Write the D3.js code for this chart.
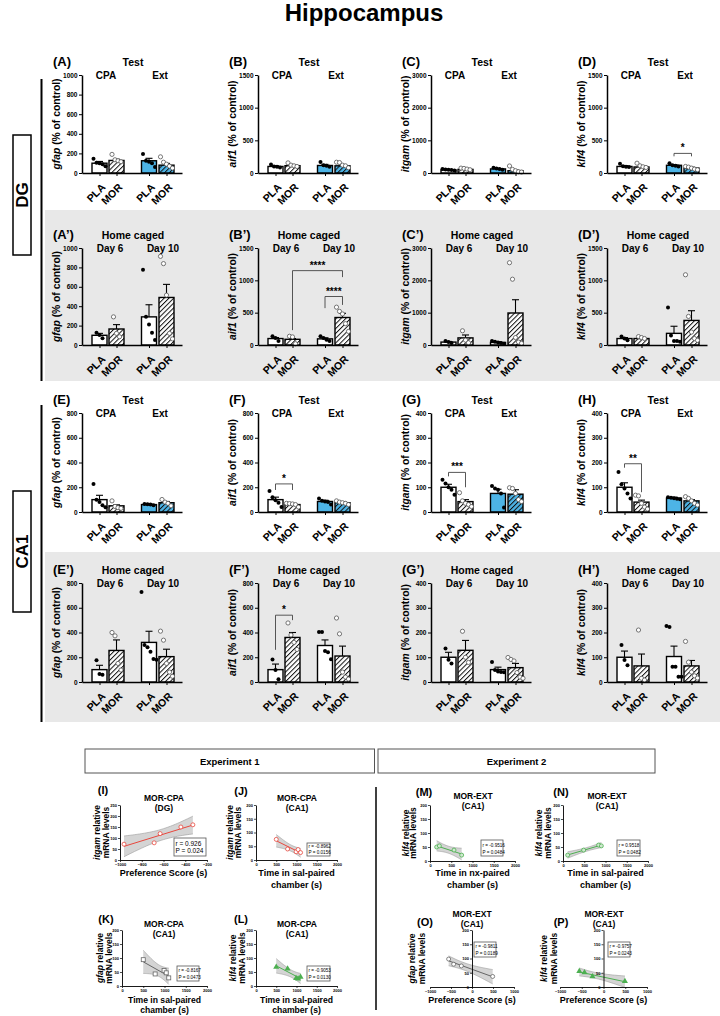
<!DOCTYPE html>
<html>
<head>
<meta charset="utf-8">
<script src="https://cdn.jsdelivr.net/npm/d3@7/dist/d3.min.js"></script>
<style>
html,body{margin:0;padding:0;background:#fff;}
svg{display:block;}
</style>
</head>
<body>
<svg id="fig" width="720" height="1016"></svg>
<script>
// ================= DATA =================
const groupLabels = ["PLA","MOR","PLA","MOR"];
const testLabels  = ["CPA","Ext"];
const homeLabels  = ["Day 6","Day 10"];
const geneNames   = ["gfap","aif1","itgam","klf4"];
const dgMax   = [1000,1500,3000,1500];
const dgStep  = [200,500,1000,500];
const ca1Max  = [800,800,400,400];
const ca1Step = [200,200,100,100];

// DG – Test
const A_means=[100,128,125,80],  A_top=[118,140,150,98];
const A_pts=[[145,105,100,90,70],[190,135,125,115],[195,125,115,100,60],[165,110,90,70,50]];
const B_means=[100,112,115,110], B_top=[110,128,132,125];
const B_pts=[[130,100,95,85],[155,120,110,100],[170,120,110,95],[165,160,120,110,80]];
const C_means=[95,110,125,70],   C_top=[110,125,140,90];
const C_pts=[[120,110,100,90,80],[150,140,120,100],[160,140,120,100],[215,110,70,40,30]];
const D_means=[100,92,118,75],   D_top=[112,105,128,88];
const D_pts=[[140,105,95,90],[150,110,95,85],[150,120,110,100],[100,90,75,60,50]];
const D_sig=[{a:2,b:3,v:300,dl:45,dr:45,t:"*"}];

// DG – Home caged
const Ap_means=[100,165,290,490], Ap_top=[120,210,415,625];
const Ap_pts=[[127,103,70],[290,120,85],[777,291,212,127,51],[914,839,514,120,63]];
const Bp_means=[100,88,95,425],   Bp_top=[115,100,112,490];
const Bp_pts=[[135,110,60],[135,125,20],[137,110,80,60],[585,520,480,330,210]];
const Bp_sig=[{a:1,b:3,v:1150,dl:920,dr:100,t:"****"},{a:2,b:3,v:750,dl:180,dr:130,t:"****"}];
const Cp_means=[90,220,80,990],   Cp_top=[110,310,100,1400];
const Cp_pts=[[120,90,60],[440,150,70],[120,100,80,60,40],[2545,2035,230,90,50]];
const Dp_means=[100,100,180,380], Dp_top=[115,115,290,530];
const Dp_pts=[[130,100,75],[130,115,100],[579,147,61,61,52],[1086,442,200,100,72]];

// CA1 – Test
const E_means=[100,50,60,75],  E_top=[135,58,65,85];
const E_pts=[[227,100,80,55,38],[90,45,35,30],[65,62,60,55],[101,80,70,50]];
const F_means=[100,60,85,75],  F_top=[120,66,95,82];
const F_pts=[[170,120,95,75,40],[70,68,65,60,40],[110,90,85,80,60],[90,80,75,70,60]];
const F_sig=[{a:0,b:1,v:227,dl:49,dr:49,t:"*"}];
const G_means=[100,42,75,72],  G_top=[112,50,92,90];
const G_pts=[[130,115,100,90,70],[78,45,35,30,22],[105,95,90,75,18],[98,95,75,50,42]];
const G_sig=[{a:0,b:1,v:160,dl:16,dr:60,t:"***"}];
const H_means=[100,40,56,45],  H_top=[118,48,60,50];
const H_pts=[[162,112,95,75,55],[68,65,35,20,12],[60,58,56,54,52],[62,55,45,35,28]];
const H_sig=[{a:0,b:1,v:195,dl:16,dr:115,t:"**"}];

// CA1 – Home caged
const Ep_means=[100,255,320,205], Ep_top=[135,340,410,265];
const Ep_pts=[[176,65,59],[400,373,150,97],[727,300,280,245,185,180],[411,338,150,80,46]];
const Fp_means=[100,360,295,210], Fp_top=[145,400,340,290];
const Fp_pts=[[181,97,22],[477,380,320,263],[405,405,250,240,184],[517,389,80,40,24]];
const Fp_sig=[{a:0,b:1,v:540,dl:280,dr:40,t:"*"}];
const Gp_means=[100,128,50,58],   Gp_top=[120,168,60,75];
const Gp_pts=[[135,90,75],[205,100,79],[81,48,42,40,39],[99,91,85,38,20,15]];
const Hp_means=[100,65,103,65],   Hp_top=[125,113,145,87];
const Hp_pts=[[150,89,68],[210,15,8],[226,222,62,62,21,21],[164,80,40,25,16]];

// Correlations
const I_x=[-963,-686,-631,-440,-330], I_y=[72,78,120,150,160], I_stat=["r = 0.926","P = 0.024"];
const J_x=[500,780,990,1040,1100],   J_y=[75,40,30,38,27],    J_stat=["r = -0.8962","P = 0.0156"];
const K_x=[500,780,990,1040,1100],   K_y=[94,43,55,47,29],    K_stat=["r = -0.8167","P = 0.0473"];
const L_x=[500,780,990,1040,1100],   L_y=[68,62,28,26,32],    L_stat=["r = -0.9053","P = 0.0130"];
const M_x=[157,220,565,745],         M_y=[50,54,39,21],       M_stat=["r = -0.9516","P = 0.0484"];
const N_x=[110,486,839,902],         N_y=[21,39,57,54],       N_stat=["r = 0.9518","P = 0.0482"];
const O_x=[-556,-437,-254,492],      O_y=[98,80,74,37],       O_stat=["r = -0.9811","P = 0.0189"];
const P_x=[-556,-437,-254,492],      P_y=[55,51,37,20],       P_stat=["r = -0.9757","P = 0.0243"];

// ================= DRAW =================
const FONT = "'Liberation Sans', Arial, Helvetica, sans-serif";
const svg = d3.select("#fig").style("font-family", FONT);
const BLUE = "#4db4e6";
const fmt = d3.format("d");
const defs = svg.append("defs");
function hatch(id,bg){
  const p = defs.append("pattern").attr("id",id).attr("patternUnits","userSpaceOnUse")
    .attr("width",3.4).attr("height",3.4).attr("patternTransform","rotate(45)");
  p.append("rect").attr("width",3.4).attr("height",3.4).attr("fill",bg);
  p.append("line").attr("x1",0.5).attr("y1",0).attr("x2",0.5).attr("y2",3.4).attr("stroke","#111").attr("stroke-width",1);
}
hatch("hw","#ffffff"); hatch("hb",BLUE);

// grey backgrounds
svg.append("rect").attr("x",45).attr("y",210).attr("width",675).attr("height",171).attr("fill","#e8e8e8");
svg.append("rect").attr("x",45).attr("y",552).attr("width",675).attr("height",170).attr("fill","#e8e8e8");

// title
svg.append("text").attr("x",364).attr("y",21).attr("text-anchor","middle")
  .attr("font-size",24).attr("font-weight","bold").text("Hippocampus");

// region boxes + brackets
function region(label,y0,y1,ly0,ly1){
  svg.append("rect").attr("x",13).attr("y",y0).attr("width",18).attr("height",y1-y0)
    .attr("fill","#fff").attr("stroke","#000").attr("stroke-width",1.5);
  svg.append("text").attr("transform",`translate(28,${(y0+y1)/2}) rotate(-90)`).attr("text-anchor","middle")
    .attr("font-size",17).attr("font-weight","bold").text(label);
  svg.append("line").attr("x1",41.5).attr("x2",41.5).attr("y1",ly0).attr("y2",ly1).attr("stroke","#000").attr("stroke-width",2);
}
region("DG",135,255,79,381);
region("CA1",491,612,405,722);

const colX=[82,258,431,607];
const centersU=[17.5,34.5,67,84.5];

function barPanel(ax,yTop,yBot,max,step,gene,tag,head,sub,blue,means,tops,pts,sigs){
  const g = svg.append("g");
  const x = d3.scaleLinear().domain([0,100]).range([ax,ax+100]);
  const y = d3.scaleLinear().domain([0,max]).range([yBot,yTop]);
  const bw=15;
  means.forEach((m,i)=>{
    const isBlue = blue && i>=2, hat = i%2===1;
    g.append("rect").attr("x",x(centersU[i])-bw/2).attr("y",y(m)).attr("width",bw).attr("height",y(0)-y(m))
      .attr("fill", hat ? (isBlue?"url(#hb)":"url(#hw)") : (isBlue?BLUE:"#fff"))
      .attr("stroke","#000").attr("stroke-width",1.4);
  });
  tops.forEach((t,i)=>{
    const cx=x(centersU[i]);
    g.append("line").attr("x1",cx).attr("x2",cx).attr("y1",y(means[i])).attr("y2",y(t)).attr("stroke","#000").attr("stroke-width",1.1);
    g.append("line").attr("x1",cx-3.5).attr("x2",cx+3.5).attr("y1",y(t)).attr("y2",y(t)).attr("stroke","#000").attr("stroke-width",1.1);
  });
  pts.forEach((arr,i)=>{
    const cx=x(centersU[i]); const n=arr.length;
    arr.forEach((v,k)=>{
      const off=(k-(n-1)/2)*3;
      const c=g.append("circle").attr("cx",cx+off).attr("cy",y(v)).attr("r",i%2===0?2:2.1);
      if(i%2===0) c.attr("fill","#000");
      else c.attr("fill","#fff").attr("stroke","#555").attr("stroke-width",0.8);
    });
  });
  const ya = g.append("g").attr("transform",`translate(${ax},0)`)
    .call(d3.axisLeft(y).tickValues(d3.range(0,max+1,step)).tickFormat(fmt).tickSize(3).tickSizeOuter(0).tickPadding(1.5));
  ya.select(".domain").attr("stroke-width",1.5);
  ya.selectAll(".tick line").attr("stroke-width",1);
  ya.selectAll("text").attr("font-size",6.5).attr("font-weight","bold").attr("font-family",FONT);
  const xa = g.append("g").attr("transform",`translate(0,${yBot})`)
    .call(d3.axisBottom(x).tickValues(centersU).tickFormat((d,i)=>groupLabels[i]).tickSize(3).tickSizeOuter(0));
  xa.select(".domain").attr("stroke-width",1.5);
  xa.selectAll(".tick line").attr("stroke-width",1);
  xa.selectAll("text").attr("font-size",10.5).attr("font-weight","bold").attr("font-family",FONT)
    .attr("text-anchor","end").attr("x",6).attr("y",15).attr("dy",0).attr("transform","rotate(-45 6 15)");
  const yl = g.append("text").attr("transform",`translate(${ax-22},${(yTop+yBot)/2}) rotate(-90)`)
    .attr("text-anchor","middle").attr("font-size",10.3).attr("font-weight","bold");
  yl.append("tspan").attr("font-style","italic").text(gene);
  yl.append("tspan").text(" (% of control)");
  g.append("text").attr("x",ax-29).attr("y",yTop-9).attr("font-size",13).attr("font-weight","bold").text(tag);
  g.append("text").attr("x",ax+51).attr("y",yTop-9).attr("text-anchor","middle").attr("font-size",10.5).attr("font-weight","bold").text(head);
  const subX = head==="Test"?[24,78]:[28,81];
  sub.forEach((s,i)=>g.append("text").attr("x",ax+subX[i]).attr("y",yTop+4).attr("text-anchor","middle").attr("font-size",10).attr("font-weight","bold").text(s));
  (sigs||[]).forEach(s=>{
    const xa_=x(centersU[s.a]), xb=x(centersU[s.b]);
    g.append("path").attr("d",`M${xa_},${y(s.v-s.dl)}V${y(s.v)}H${xb}V${y(s.v-s.dr)}`)
      .attr("fill","none").attr("stroke","#444").attr("stroke-width",0.9);
    g.append("text").attr("x",(xa_+xb)/2).attr("y",y(s.v)-2).attr("text-anchor","middle")
      .attr("font-size",10).attr("font-weight","bold").text(s.t);
  });
}

const rows=[
  {yTop:75,yBot:173,head:"Test",sub:testLabels,blue:true,max:dgMax,step:dgStep,tags:["(A)","(B)","(C)","(D)"],
   d:[[A_means,A_top,A_pts,[]],[B_means,B_top,B_pts,[]],[C_means,C_top,C_pts,[]],[D_means,D_top,D_pts,D_sig]]},
  {yTop:248,yBot:345,head:"Home caged",sub:homeLabels,blue:false,max:dgMax,step:dgStep,tags:["(A’)","(B’)","(C’)","(D’)"],
   d:[[Ap_means,Ap_top,Ap_pts,[]],[Bp_means,Bp_top,Bp_pts,Bp_sig],[Cp_means,Cp_top,Cp_pts,[]],[Dp_means,Dp_top,Dp_pts,[]]]},
  {yTop:413,yBot:512,head:"Test",sub:testLabels,blue:true,max:ca1Max,step:ca1Step,tags:["(E)","(F)","(G)","(H)"],
   d:[[E_means,E_top,E_pts,[]],[F_means,F_top,F_pts,F_sig],[G_means,G_top,G_pts,G_sig],[H_means,H_top,H_pts,H_sig]]},
  {yTop:583,yBot:682,head:"Home caged",sub:homeLabels,blue:false,max:ca1Max,step:ca1Step,tags:["(E’)","(F’)","(G’)","(H’)"],
   d:[[Ep_means,Ep_top,Ep_pts,[]],[Fp_means,Fp_top,Fp_pts,Fp_sig],[Gp_means,Gp_top,Gp_pts,[]],[Hp_means,Hp_top,Hp_pts,[]]]}
];
rows.forEach(r=>{
  r.d.forEach((dd,c)=>{
    barPanel(colX[c],r.yTop,r.yBot,r.max[c],r.step[c],geneNames[c],r.tags[c],r.head,r.sub,r.blue,dd[0],dd[1],dd[2],dd[3]);
  });
});

// ===== Experiment boxes =====
function expBox(x0,x1,label){
  svg.append("rect").attr("x",x0).attr("y",749).attr("width",x1-x0).attr("height",24)
    .attr("fill","#fff").attr("stroke","#555").attr("stroke-width",1);
  svg.append("text").attr("x",(x0+x1)/2).attr("y",764.5).attr("text-anchor","middle")
    .attr("font-size",9.5).attr("font-weight","bold").text(label);
}
expBox(85,374.5,"Experiment 1");
expBox(378,655,"Experiment 2");
svg.append("line").attr("x1",376).attr("x2",376).attr("y1",787).attr("y2",1010).attr("stroke","#000").attr("stroke-width",1.5);

// ===== Scatter panels =====
const tTable={1:12.706,2:4.303,3:3.182,4:2.776,5:2.571};
let clipId=0;
function scatter(c){
  const g=svg.append("g");
  const x=d3.scaleLinear().domain(c.xd).range([c.x0,c.x1]);
  const y=d3.scaleLinear().domain(c.yd).range([c.y0,c.y1]);
  const xs=c.xs, ys=c.ys, n=xs.length, mx=d3.mean(xs), my=d3.mean(ys);
  let sxx=0,sxy=0; xs.forEach((v,i)=>{sxx+=(v-mx)**2; sxy+=(v-mx)*(ys[i]-my);});
  const b=sxy/sxx, a=my-b*mx;
  let sse=0; xs.forEach((v,i)=>{sse+=(ys[i]-(a+b*v))**2;});
  const s=Math.sqrt(sse/(n-2)), t=tTable[n-2];
  const [xmin,xmax]=d3.extent(xs);
  const grid=d3.range(0,41).map(i=>xmin+(xmax-xmin)*i/40);
  const band=grid.map(v=>{const yh=a+b*v,h=t*s*Math.sqrt(1/n+(v-mx)**2/sxx);return [v,yh-h,yh+h];});
  const id="clip"+(clipId++);
  defs.append("clipPath").attr("id",id).append("rect").attr("x",c.x0).attr("y",c.y1).attr("width",c.x1-c.x0).attr("height",c.y0-c.y1);
  const pg=g.append("g").attr("clip-path",`url(#${id})`);
  pg.append("path").datum(band).attr("d",d3.area().x(d=>x(d[0])).y0(d=>y(d[1])).y1(d=>y(d[2])))
    .attr("fill","#d4d4d4").attr("stroke","none");
  [1,2].forEach(k=>pg.append("path").datum(band).attr("d",d3.line().x(d=>x(d[0])).y(d=>y(d[k])))
    .attr("fill","none").attr("stroke","#9a9a9a").attr("stroke-width",0.6));
  pg.append("line").attr("x1",x(xmin)).attr("x2",x(xmax)).attr("y1",y(a+b*xmin)).attr("y2",y(a+b*xmax))
    .attr("stroke",c.color).attr("stroke-width",1);
  const yax=g.append("g").attr("transform",`translate(${x(c.yAt)},0)`)
    .call(d3.axisLeft(y).tickValues(c.yt).tickFormat(fmt).tickSize(2).tickSizeOuter(0).tickPadding(1));
  const xax=g.append("g").attr("transform",`translate(0,${y(0)})`)
    .call(d3.axisBottom(x).tickValues(c.xt).tickFormat(fmt).tickSize(2).tickSizeOuter(0).tickPadding(1));
  [yax,xax].forEach(ax=>{
    ax.select(".domain").attr("stroke-width",0.9);
    ax.selectAll(".tick line").attr("stroke-width",0.7);
    ax.selectAll("text").attr("font-size",4).attr("font-weight","bold").attr("font-family",FONT);
  });
  xs.forEach((v,i)=>{
    const px=x(v), py=y(ys[i]);
    if(c.shape==="square") g.append("rect").attr("x",px-2).attr("y",py-2).attr("width",4).attr("height",4)
      .attr("fill","#fff").attr("stroke",c.pcolor).attr("stroke-width",0.8);
    else if(c.shape==="triangle") g.append("path").attr("transform",`translate(${px},${py})`)
      .attr("d",d3.symbol().type(d3.symbolTriangle).size(16)()).attr("fill",c.pcolor);
    else g.append("circle").attr("cx",px).attr("cy",py).attr("r",2).attr("fill",c.pfill||"#fff")
      .attr("stroke",c.pcolor).attr("stroke-width",0.8);
  });
  const sb=c.sbox;
  g.append("rect").attr("x",sb[0]).attr("y",sb[1]).attr("width",sb[2]-sb[0]).attr("height",sb[3]-sb[1])
    .attr("fill","#fff").attr("stroke","#555").attr("stroke-width",0.8);
  const fs=c.sfs, hh=(sb[3]-sb[1]);
  c.stat.forEach((st,i)=>g.append("text").attr("x",sb[0]+1.5).attr("y",sb[1]+hh*(i===0?0.42:0.86)).attr("font-size",fs).text(st));
  g.append("text").attr("x",c.tag[1]).attr("y",c.tag[2]).attr("text-anchor","middle").attr("font-size",11).attr("font-weight","bold").text(c.tag[0]);
  c.title.forEach((tt,i)=>g.append("text").attr("x",c.tpos[0]).attr("y",c.tpos[1]+i*10).attr("text-anchor","middle")
    .attr("font-size",8.5).attr("font-weight","bold").text(tt));
  c.xlab.forEach((tt,i)=>g.append("text").attr("x",(c.x0+c.x1)/2).attr("y",c.xlY+i*c.xlGap).attr("text-anchor","middle")
    .attr("font-size",c.xlFs).attr("font-weight","bold").text(tt));
  const ymid=(c.y0+c.y1)/2;
  const l1=g.append("text").attr("transform",`translate(${c.ylx[0]},${ymid}) rotate(-90)`).attr("text-anchor","middle")
    .attr("font-size",8.5).attr("font-weight","bold");
  l1.append("tspan").attr("font-style","italic").text(c.gene); l1.append("tspan").text(" relative");
  g.append("text").attr("transform",`translate(${c.ylx[1]},${ymid}) rotate(-90)`).attr("text-anchor","middle")
    .attr("font-size",8.5).attr("font-weight","bold").text("mRNA levels");
}
const RED="#e8473d", GREEN="#4caf50", GREY="#666";
const timeTicks=[0,500,1000,1500,2000], yT200=[0,50,100,150,200];
scatter({xs:I_x,ys:I_y,stat:I_stat,xd:[-1000,-200],xt:[-1000,-800,-600,-400,-200],x0:120,x1:207,yd:[0,250],yt:[0,50,100,150,200,250],y0:860,y1:805,yAt:-1000,
  color:RED,pcolor:RED,shape:"circle",sbox:[174,838,206,856],sfs:6.5,tag:["(I)",103,794],title:["MOR-CPA","(DG)"],tpos:[164,801],
  xlab:["Preference Score (s)"],xlY:876,xlGap:11,xlFs:9,gene:"itgam",ylx:[99.5,108.5]});
scatter({xs:J_x,ys:J_y,stat:J_stat,xd:[0,2000],xt:timeTicks,x0:256,x1:337,yd:[0,200],yt:yT200,y0:860,y1:805,yAt:0,
  color:RED,pcolor:RED,shape:"circle",sbox:[307,843,330,856],sfs:4.6,tag:["(J)",241,795],title:["MOR-CPA","(CA1)"],tpos:[297,801],
  xlab:["Time in sal-paired","chamber (s)"],xlY:876,xlGap:11.5,xlFs:9,gene:"itgam",ylx:[232.5,241]});
scatter({xs:K_x,ys:K_y,stat:K_stat,xd:[0,2000],xt:timeTicks,x0:122,x1:207,yd:[0,200],yt:yT200,y0:986,y1:930,yAt:0,
  color:GREY,pcolor:GREY,shape:"square",sbox:[177,966,199,981],sfs:4.6,tag:["(K)",106,923],title:["MOR-CPA","(CA1)"],tpos:[164,927],
  xlab:["Time in sal-paired","chamber (s)"],xlY:1003,xlGap:9.5,xlFs:8.6,gene:"gfap",ylx:[103,112]});
scatter({xs:L_x,ys:L_y,stat:L_stat,xd:[0,2000],xt:timeTicks,x0:256,x1:337,yd:[0,200],yt:yT200,y0:986,y1:930,yAt:0,
  color:GREEN,pcolor:GREEN,shape:"triangle",sbox:[307,966,330,981],sfs:4.6,tag:["(L)",241,923],title:["MOR-CPA","(CA1)"],tpos:[297,927],
  xlab:["Time in sal-paired","chamber (s)"],xlY:1003,xlGap:9.5,xlFs:8.6,gene:"klf4",ylx:[236,245]});
scatter({xs:M_x,ys:M_y,stat:M_stat,xd:[0,2000],xt:timeTicks,x0:430,x1:515,yd:[0,200],yt:yT200,y0:861,y1:805,yAt:0,
  color:GREEN,pcolor:GREEN,pfill:"#cfe9cf",shape:"circle",sbox:[481,840,503,856],sfs:4.6,tag:["(M)",424,796],title:["MOR-EXT","(CA1)"],tpos:[473,799],
  xlab:["Time in nx-paired","chamber (s)"],xlY:876,xlGap:11.5,xlFs:9,gene:"klf4",ylx:[408.5,416]});
scatter({xs:N_x,ys:N_y,stat:N_stat,xd:[0,2000],xt:timeTicks,x0:563,x1:648,yd:[0,200],yt:yT200,y0:861,y1:805,yAt:0,
  color:GREEN,pcolor:GREEN,pfill:"#cfe9cf",shape:"circle",sbox:[617,840,640,856],sfs:4.6,tag:["(N)",561,796],title:["MOR-EXT","(CA1)"],tpos:[607,799],
  xlab:["Time in sal-paired","chamber (s)"],xlY:876,xlGap:11.5,xlFs:9,gene:"klf4",ylx:[542,551]});
scatter({xs:O_x,ys:O_y,stat:O_stat,xd:[-1000,1000],xt:[-1000,-500,0,500,1000],x0:430,x1:514,yd:[0,200],yt:yT200,y0:987,y1:930,yAt:0,
  color:GREY,pcolor:GREY,shape:"circle",sbox:[474,942,496,957],sfs:4.6,tag:["(O)",425,926],title:["MOR-EXT","(CA1)"],tpos:[472,917],
  xlab:["Preference Score (s)"],xlY:1003,xlGap:10,xlFs:9,gene:"gfap",ylx:[415,425]});
scatter({xs:P_x,ys:P_y,stat:P_stat,xd:[-1000,1000],xt:[-1000,-500,0,500,1000],x0:560,x1:647,yd:[0,200],yt:yT200,y0:987,y1:930,yAt:0,
  color:GREEN,pcolor:GREEN,shape:"triangle",sbox:[608,942,630,957],sfs:4.6,tag:["(P)",561,926],title:["MOR-EXT","(CA1)"],tpos:[604,917],
  xlab:["Preference Score (s)"],xlY:1003,xlGap:10,xlFs:9,gene:"klf4",ylx:[547,557]});
</script>
</body>
</html>
